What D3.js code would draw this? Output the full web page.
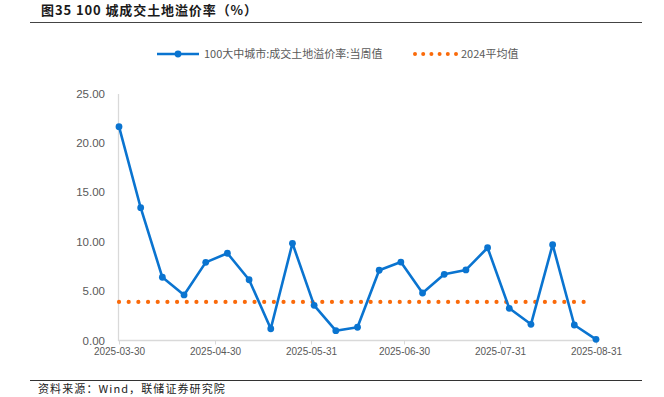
<!DOCTYPE html>
<html><head><meta charset="utf-8">
<script src="https://cdn.jsdelivr.net/npm/d3@7/dist/d3.min.js"></script>
<style>
html,body{margin:0;padding:0;background:#fff;}
svg{display:block;font-family:"Liberation Sans",Arial,"Noto Sans CJK SC",sans-serif;}
</style></head>
<body><svg id="c" width="664" height="397"></svg>
<script>
const startDate = "2025-03-30";
const weeklyValues = [21.64,13.44,6.40,4.61,7.91,8.83,6.15,1.19,9.84,3.56,0.99,1.34,7.11,7.94,4.81,6.70,7.14,9.39,3.26,1.64,9.70,1.57,0.12];
const avg2024 = 3.9;
const xTickLabels = ["2025-03-30","2025-04-30","2025-05-31","2025-06-30","2025-07-31","2025-08-31"];
const yTicks = [0,5,10,15,20,25];
const seriesNames = ["100大中城市:成交土地溢价率:当周值","2024平均值"];
const titleText = "图35 100 城成交土地溢价率（%）";
const sourceText = "资料来源：Wind，联储证券研究院";

const parse = d3.timeParse("%Y-%m-%d");
const d0 = parse(startDate);
const dates = weeklyValues.map((v,i)=>d3.timeDay.offset(d0, 7*i));
const data = dates.map((d,i)=>({d, v: weeklyValues[i]}));

const svg = d3.select("#c");
const blue = "#0a74d0", orange = "#fa6a0a", grey = "#595959";

// title
svg.append("text").attr("x",41).attr("y",14.5).attr("font-size",13).attr("font-weight","bold")
  .attr("letter-spacing",0.9)
  .attr("fill","#1a1a1a").attr("font-family","'Noto Sans CJK SC',sans-serif").text(titleText);
svg.append("line").attr("x1",30).attr("x2",642).attr("y1",22.5).attr("y2",22.5).attr("stroke","#444").attr("stroke-width",1.2);
svg.append("line").attr("x1",30).attr("x2",642).attr("y1",380.5).attr("y2",380.5).attr("stroke","#333").attr("stroke-width",1.2);
svg.append("text").attr("x",38).attr("y",393).attr("font-size",11).attr("fill","#222").attr("letter-spacing",1.1)
  .attr("font-family","'Noto Sans CJK SC',sans-serif").text(sourceText);

const x = d3.scaleTime().domain([dates[0], dates[dates.length-1]]).range([119, 596]);
const y = d3.scaleLinear().domain([0,25]).range([340.5, 93.5]);

// y axis
const yAxis = svg.append("g").attr("transform","translate(118,0)")
  .call(d3.axisLeft(y).tickValues(yTicks).tickFormat(d3.format(".2f")).tickSize(0).tickPadding(13));
yAxis.select(".domain").attr("stroke","#d9d9d9").attr("stroke-width",1.3);
yAxis.selectAll("text").attr("font-size",11.5).attr("fill",grey).attr("font-family","Arial,'Liberation Sans',sans-serif");

// x axis
const xTickDates = xTickLabels.map(parse);
const xAxis = svg.append("g").attr("transform","translate(0,340.5)")
  .call(d3.axisBottom(x).tickValues(xTickDates).tickFormat(d3.timeFormat("%Y-%m-%d")).tickSize(4).tickSizeOuter(0).tickPadding(3));
xAxis.select(".domain").attr("stroke","#d9d9d9").attr("stroke-width",1.3).attr("d","M118,0H597");
xAxis.selectAll(".tick line").attr("stroke","#d9d9d9");
xAxis.selectAll("text").attr("font-size",10).attr("fill",grey).attr("font-family","Arial,'Liberation Sans',sans-serif");

// average dotted line
svg.append("line").attr("x1",x(dates[0])).attr("x2",x(dates[dates.length-1])-3).attr("y1",y(avg2024)).attr("y2",y(avg2024))
  .attr("stroke",orange).attr("stroke-width",4.2).attr("stroke-linecap","round").attr("stroke-dasharray","0 9.68");

// weekly line
const line = d3.line().x(d=>x(d.d)).y(d=>y(d.v));
svg.append("path").datum(data).attr("d",line).attr("fill","none").attr("stroke",blue).attr("stroke-width",2.6).attr("stroke-linejoin","round");
svg.selectAll("circle.pt").data(data).enter().append("circle").attr("class","pt")
  .attr("cx",d=>x(d.d)).attr("cy",d=>y(d.v)).attr("r",3.4).attr("fill",blue);

// legend
const lg = svg.append("g");
lg.append("line").attr("x1",157).attr("x2",199).attr("y1",54).attr("y2",54).attr("stroke",blue).attr("stroke-width",2.6);
lg.append("circle").attr("cx",178).attr("cy",54).attr("r",3.4).attr("fill",blue);
lg.append("text").attr("x",204).attr("y",58).attr("font-size",11).attr("fill",grey)
  .attr("font-family","'Noto Sans CJK SC',sans-serif").text(seriesNames[0]);
lg.append("line").attr("x1",415).attr("x2",457).attr("y1",54).attr("y2",54).attr("stroke",orange).attr("stroke-width",4)
  .attr("stroke-linecap","round").attr("stroke-dasharray","0 8.2");
lg.append("text").attr("x",461).attr("y",58).attr("font-size",11).attr("fill",grey)
  .attr("font-family","'Noto Sans CJK SC',sans-serif").text(seriesNames[1]);
</script></body></html>
